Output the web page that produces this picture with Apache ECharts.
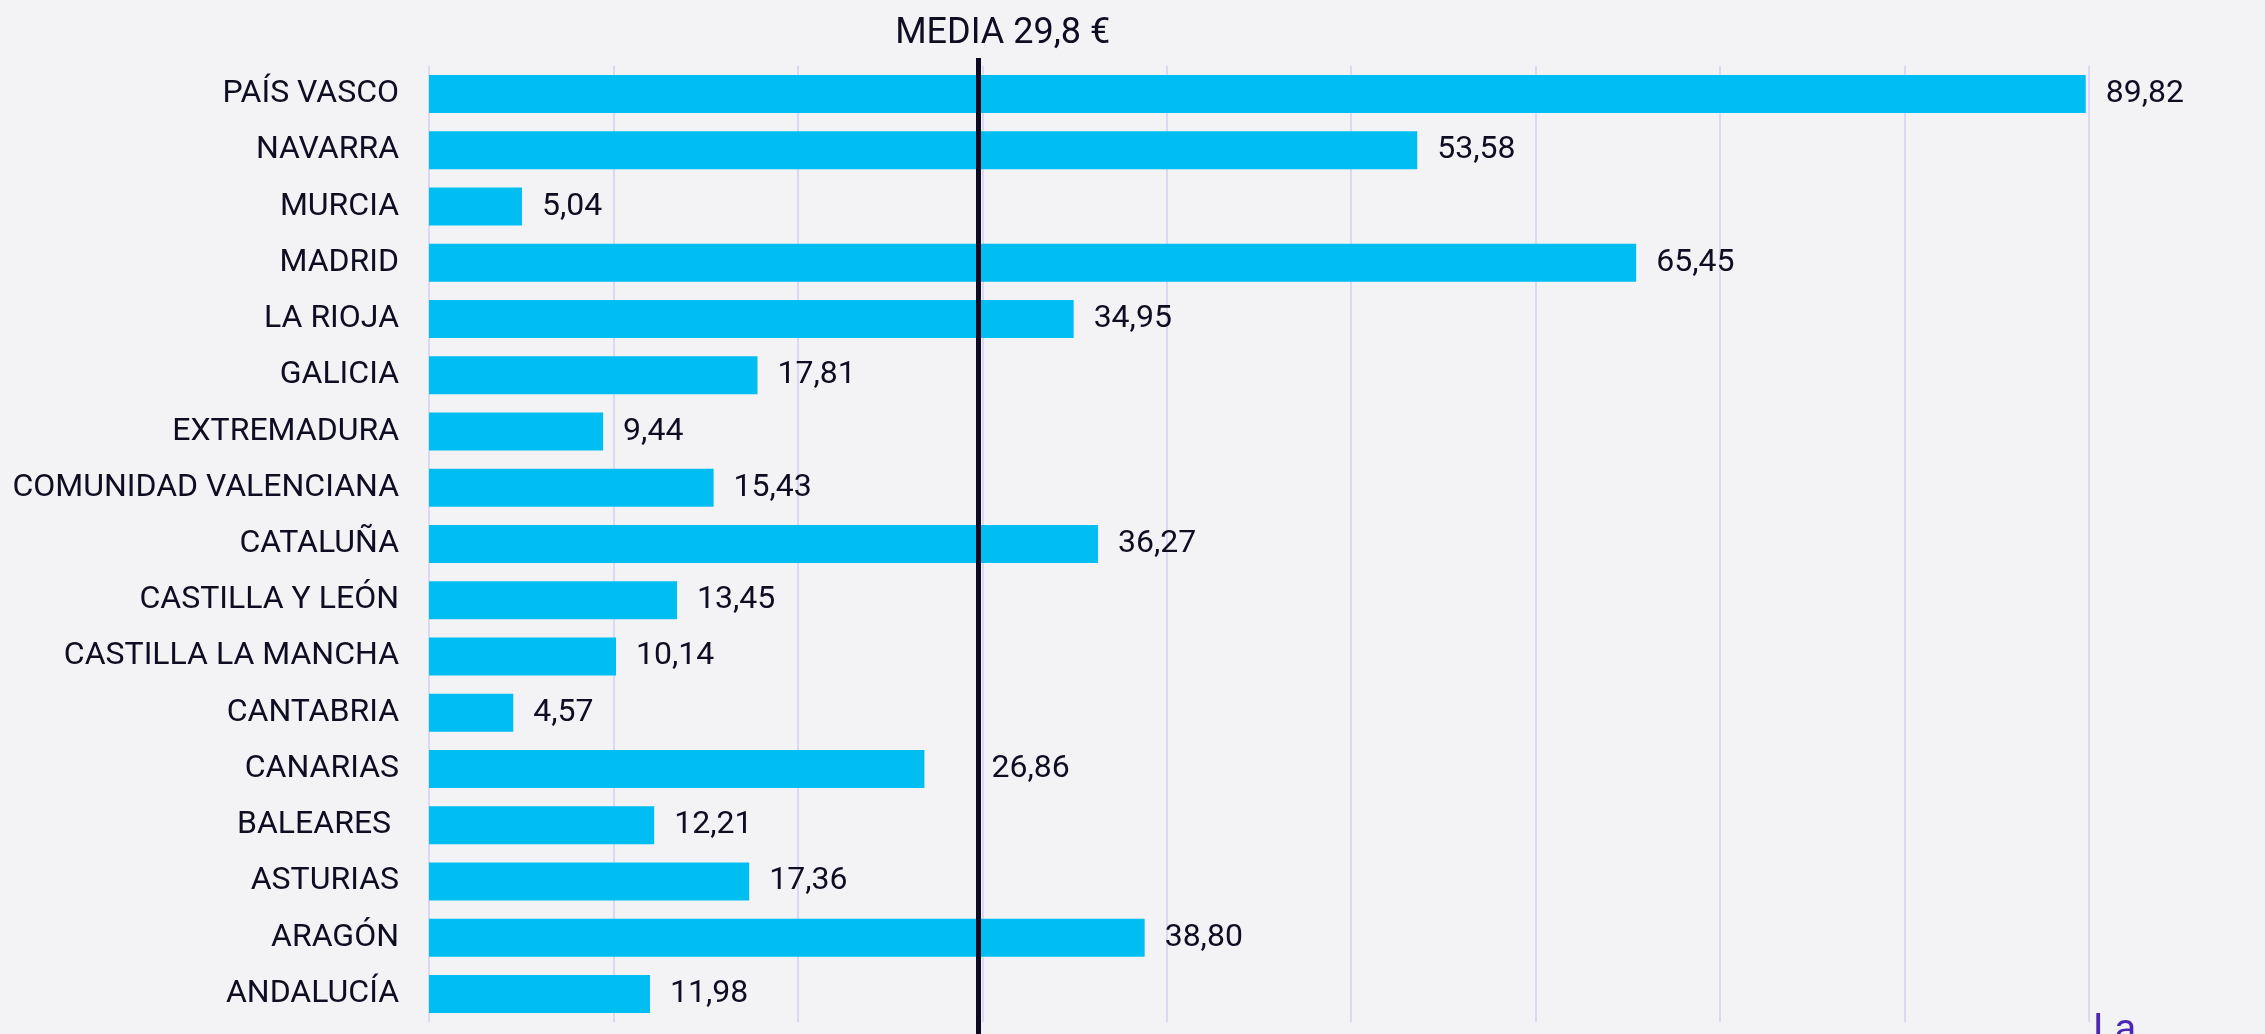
<!DOCTYPE html>
<html>
<head>
<meta charset="utf-8">
<script src="https://cdn.jsdelivr.net/npm/echarts@6/dist/echarts.min.js"></script>
<style>
  html, body { margin: 0; padding: 0; background: #f3f3f6; }
  #chart { width: 2265px; height: 1034px; }
</style>
</head>
<body>
<div id="chart"></div>
<script>
// datos (de abajo a arriba)
const regiones = [
  "ANDALUCÍA", "ARAGÓN", "ASTURIAS", "BALEARES ", "CANARIAS", "CANTABRIA",
  "CASTILLA LA MANCHA", "CASTILLA Y LEÓN", "CATALUÑA", "COMUNIDAD VALENCIANA",
  "EXTREMADURA", "GALICIA", "LA RIOJA", "MADRID", "MURCIA", "NAVARRA", "PAÍS VASCO"
];
const valores = [
  11.98, 38.80, 17.36, 12.21, 26.86, 4.57,
  10.14, 13.45, 36.27, 15.43,
  9.44, 17.81, 34.95, 65.45, 5.04, 53.58, 89.82
];
const media = 29.8;
const mediaTexto = "MEDIA 29,8 €";
const xMin = 0, xMax = 90, xPaso = 10;

const TEXT = "#0e0d22";
const BAR = "#00bdf2";
const GRID_LINE = "#dcd8f2";

const chart = echarts.init(document.getElementById("chart"));

// la etiqueta de CANARIAS se desplaza para no pisar la línea de la media
const datosBarras = valores.map(v => {
  if (v < media && v > media - 6) {
    return { value: v, label: { offset: [47, 0] } };
  }
  return v;
});

const option = {
  backgroundColor: "#f3f3f6",
  textStyle: { fontFamily: "Roboto" },
  grid: [
    { left: 429, right: 176, top: 66, bottom: 12 },
    { left: 429, right: 176, top: 58, bottom: 0 }
  ],
  xAxis: [
    {
      type: "value", gridIndex: 0, min: xMin, max: xMax, interval: xPaso,
      axisLabel: { show: false },
      axisLine: { show: false },
      axisTick: { show: false },
      splitLine: { show: true, lineStyle: { color: GRID_LINE, width: 2 } }
    },
    {
      type: "value", gridIndex: 1, min: xMin, max: xMax, show: false
    }
  ],
  yAxis: [
    {
      type: "category", gridIndex: 0, data: regiones,
      axisLine: { show: false },
      axisTick: { show: false },
      axisLabel: { color: TEXT, fontSize: 32, margin: 30, fontFamily: "Roboto" }
    },
    {
      type: "value", gridIndex: 1, min: 0, max: 1, show: false
    }
  ],
  series: [
    {
      type: "bar",
      xAxisIndex: 0, yAxisIndex: 0,
      data: datosBarras,
      barWidth: 38,
      itemStyle: { color: BAR },
      label: {
        show: true,
        position: "right",
        distance: 20,
        color: TEXT,
        fontSize: 32,
        fontFamily: "Roboto",
        formatter: p => p.value.toFixed(2).replace(".", ",")
      },
      silent: true
    },
    {
      type: "line",
      xAxisIndex: 1, yAxisIndex: 1,
      data: [],
      markLine: {
        silent: true,
        symbol: "none",
        lineStyle: { color: "#0c0a20", width: 5, type: "solid" },
        label: {
          show: true,
          position: "end",
          formatter: mediaTexto,
          color: TEXT,
          fontSize: 36,
          fontFamily: "Roboto",
          distance: 6,
          offset: [24, 0]
        },
        data: [{ xAxis: media }]
      }
    }
  ],
  graphic: [
    {
      type: "text",
      left: 2093,
      top: 1012,
      style: { text: "La", fill: "#4a28b5", font: "40px Roboto" }
    }
  ]
};

chart.setOption(option);
</script>
</body>
</html>
